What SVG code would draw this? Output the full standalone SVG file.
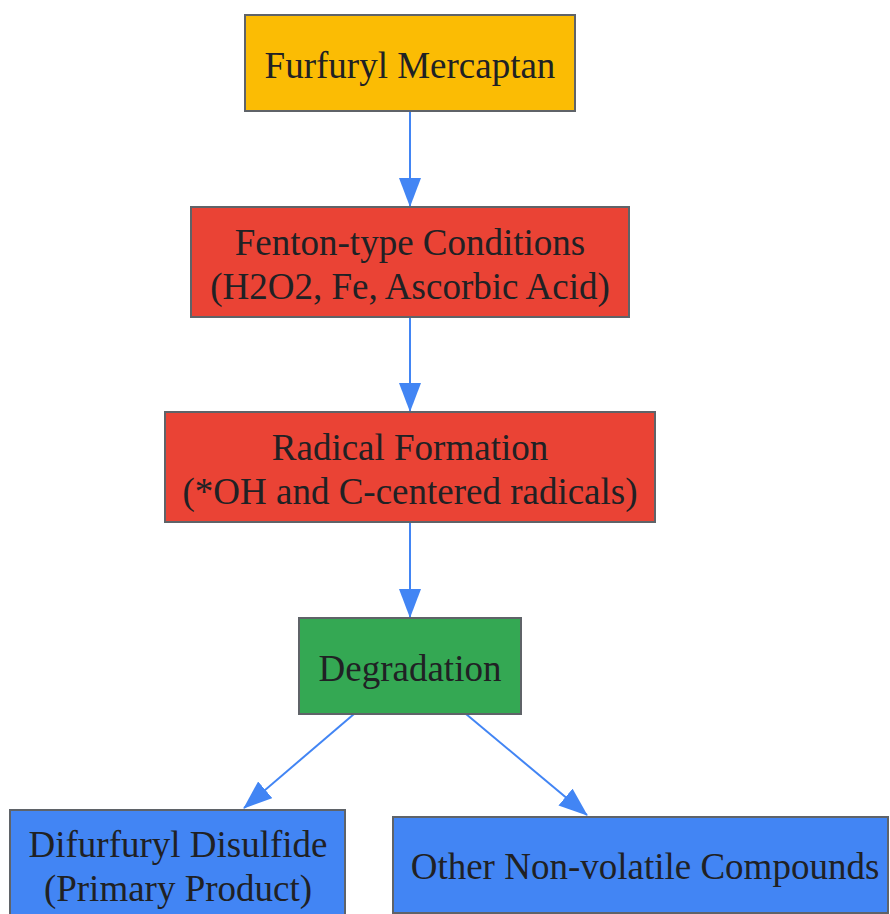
<svg xmlns="http://www.w3.org/2000/svg" width="890" height="914" viewBox="0 0 890 914">
<defs>
<marker id="ah" markerWidth="30" markerHeight="24" refX="28" refY="11" orient="auto" markerUnits="userSpaceOnUse">
<path d="M0,0 L29,11 L0,22 Z" fill="#4285F4"/>
</marker>
<style>
.n{stroke:#5f6368;stroke-width:2}
.t{font-family:"Liberation Serif","Times New Roman",serif;font-size:37px;fill:#202124;text-anchor:middle}
.e{stroke:#4285F4;stroke-width:2;fill:none;marker-end:url(#ah)}
</style>
</defs>
<rect width="890" height="914" fill="#ffffff"/>
<g id="edges">
<line class="e" x1="410" y1="111" x2="410" y2="206"/>
<line class="e" x1="410" y1="317" x2="410" y2="411"/>
<line class="e" x1="410" y1="522" x2="410" y2="617"/>
<line class="e" x1="354" y1="714" x2="244" y2="808"/>
<line class="e" x1="466" y1="714" x2="587" y2="815"/>
</g>
<g id="n1">
<rect class="n" x="245" y="15" width="330" height="96" fill="#FBBC04"/>
<text class="t" x="410" y="78">Furfuryl Mercaptan</text>
</g>
<g id="n2">
<rect class="n" x="191" y="207" width="438" height="110" fill="#EA4335"/>
<text class="t" x="410" y="255">Fenton-type Conditions</text>
<text class="t" x="410" y="299">(H2O2, Fe, Ascorbic Acid)</text>
</g>
<g id="n3">
<rect class="n" x="165" y="412" width="490" height="110" fill="#EA4335"/>
<text class="t" x="410" y="460">Radical Formation</text>
<text class="t" x="410" y="504">(*OH and C-centered radicals)</text>
</g>
<g id="n4">
<rect class="n" x="299" y="618" width="222" height="96" fill="#34A853"/>
<text class="t" x="410" y="681">Degradation</text>
</g>
<g id="n5">
<rect class="n" x="10" y="810" width="335" height="110" fill="#4285F4"/>
<text class="t" x="178" y="857">Difurfuryl Disulfide</text>
<text class="t" x="178" y="901">(Primary Product)</text>
</g>
<g id="n6">
<rect class="n" x="393" y="817" width="495" height="96" fill="#4285F4"/>
<text class="t" x="645" y="879">Other Non-volatile Compounds</text>
</g>
</svg>
